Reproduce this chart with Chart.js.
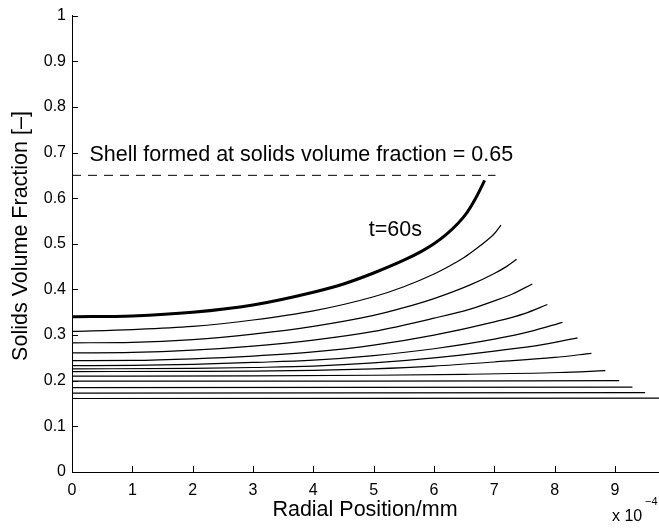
<!DOCTYPE html>
<html>
<head>
<meta charset="utf-8">
<script src="https://cdn.jsdelivr.net/npm/chart.js@4.4.1/dist/chart.umd.min.js"></script>
<style>
  html, body { margin: 0; padding: 0; background: #fff; }
  #wrap { width: 659px; height: 529px; }
</style>
</head>
<body>
<div id="wrap"><canvas id="profiles" width="659" height="529"></canvas></div>
<script>
// axis ticks (radial position in units of 1e-4 mm)
const xTicks = [0, 1, 2, 3, 4, 5, 6, 7, 8, 9];
const yTicks = [0, 0.1, 0.2, 0.3, 0.4, 0.5, 0.6, 0.7, 0.8, 0.9, 1];

// solids fraction profiles, [radial position, volume fraction]
// curve01 is the final profile at t=60s, the rest are earlier times
const curve01 = [[0, 0.340], [1, 0.342], [2, 0.350], [3, 0.366], [4, 0.394], [4.5, 0.412], [5, 0.436], [5.5, 0.464], [5.8, 0.484], [6.0, 0.500], [6.2, 0.520], [6.4, 0.545], [6.55, 0.569], [6.7, 0.602], [6.84, 0.639]];
const curve02 = [[0, 0.308], [1, 0.312], [2, 0.319], [3, 0.333], [4, 0.353], [5, 0.384], [5.5, 0.406], [6, 0.434], [6.25, 0.451], [6.5, 0.470], [6.7, 0.489], [6.9, 0.510], [7.0, 0.522], [7.11, 0.541]];
const curve03 = [[0, 0.283], [1, 0.284], [2, 0.290], [3, 0.302], [4, 0.319], [5, 0.343], [5.5, 0.360], [6, 0.380], [6.6, 0.410], [7.0, 0.435], [7.2, 0.450], [7.37, 0.466]];
const curve04 = [[0, 0.261], [1, 0.262], [2, 0.267], [3, 0.276], [4, 0.289], [5, 0.308], [6, 0.337], [6.6, 0.357], [7.0, 0.375], [7.3, 0.390], [7.63, 0.412]];
const curve05 = [[0, 0.244], [1, 0.2445], [2, 0.248], [3, 0.254], [4, 0.263], [5, 0.278], [6, 0.300], [7.0, 0.329], [7.5, 0.347], [7.88, 0.367]];
const curve06 = [[0, 0.233], [1, 0.2335], [2, 0.236], [3, 0.240], [4, 0.245], [5, 0.255], [6, 0.270], [7.0, 0.291], [7.6, 0.308], [8.13, 0.328]];
const curve07 = [[0, 0.226], [2, 0.227], [3, 0.229], [4, 0.232], [5, 0.239], [6, 0.250], [7.0, 0.265], [7.8, 0.279], [8.38, 0.294]];
const curve08 = [[0, 0.220], [2, 0.2205], [3, 0.221], [4, 0.2225], [5, 0.226], [6, 0.232], [7.0, 0.241], [8.0, 0.251], [8.61, 0.260]];
const curve09 = [[0, 0.210], [3, 0.2105], [5, 0.212], [6.5, 0.214], [8.08, 0.218], [8.84, 0.222]];
const curve10 = [[0, 0.199], [4.7, 0.199], [9.07, 0.200]];
const curve11 = [[0, 0.185], [9.29, 0.186]];
const curve12 = [[0, 0.173], [9.50, 0.174]];
const curve13 = [[0, 0.161], [9.73, 0.162]];

// shell threshold line
const shellFraction = 0.65;
const shellLineX = [0, 7.02];

// text notes: [label, x, y]
const notes = [
  ['Shell formed at solids volume fraction = 0.65', 0.29, 0.694],
  ['t=60s', 4.92, 0.530]
];

const FONT = "'Liberation Sans', Arial, Helvetica, sans-serif";

function toPoints(arr) {
  return arr.map(p => ({ x: p[0], y: p[1] }));
}

function profile(arr, width) {
  return {
    data: toPoints(arr),
    borderColor: '#000',
    borderWidth: width,
    pointRadius: 0,
    showLine: true,
    fill: false,
    cubicInterpolationMode: 'monotone'
  };
}

const datasets = [
  profile(curve01, 3),
  profile(curve02, 1.2),
  profile(curve03, 1.2),
  profile(curve04, 1.2),
  profile(curve05, 1.2),
  profile(curve06, 1.2),
  profile(curve07, 1.2),
  profile(curve08, 1.2),
  profile(curve09, 1.2),
  profile(curve10, 1.2),
  profile(curve11, 1.2),
  profile(curve12, 1.2),
  profile(curve13, 1.2),
  {
    data: shellLineX.map(x => ({ x: x, y: shellFraction })),
    borderColor: '#000',
    borderWidth: 1,
    borderDash: [9, 7],
    pointRadius: 0,
    showLine: true,
    fill: false
  }
];

// inward tick marks, notes, axis titles and the exponent label
const decorations = {
  id: 'decorations',
  afterDraw(chart) {
    const ctx = chart.ctx;
    const xs = chart.scales.x;
    const ys = chart.scales.y;
    const area = chart.chartArea;
    ctx.save();
    ctx.strokeStyle = '#000';
    ctx.lineWidth = 1;
    ctx.beginPath();
    xTicks.forEach(v => {
      const px = Math.round(xs.getPixelForValue(v)) + 0.5;
      ctx.moveTo(px, area.bottom);
      ctx.lineTo(px, area.bottom - 6);
    });
    yTicks.forEach(v => {
      const py = Math.round(ys.getPixelForValue(v)) + 0.5;
      ctx.moveTo(area.left, py);
      ctx.lineTo(area.left + 6, py);
    });
    ctx.stroke();

    ctx.fillStyle = '#000';
    ctx.font = '21.5px ' + FONT;
    ctx.textAlign = 'left';
    ctx.textBaseline = 'middle';
    notes.forEach(n => {
      ctx.fillText(n[0], xs.getPixelForValue(n[1]), ys.getPixelForValue(n[2]));
    });

    // axis titles
    ctx.textAlign = 'center';
    ctx.fillText('Radial Position/mm', 365, 510);
    ctx.save();
    ctx.translate(21, 236);
    ctx.rotate(-Math.PI / 2);
    ctx.fillText('Solids Volume Fraction [\u2013]', 0, 0);
    ctx.restore();

    // x 10^-4 multiplier
    ctx.textAlign = 'left';
    ctx.font = '16px ' + FONT;
    ctx.fillText('x 10', 612, 517);
    ctx.font = '11px ' + FONT;
    ctx.fillText('\u22124', 645, 502);
    ctx.restore();
  }
};

new Chart(document.getElementById('profiles'), {
  type: 'scatter',
  data: { datasets: datasets },
  plugins: [decorations],
  options: {
    responsive: false,
    animation: false,
    layout: { padding: { top: 10, left: 0, right: 0, bottom: 0 } },
    plugins: {
      legend: { display: false },
      tooltip: { enabled: false }
    },
    scales: {
      x: {
        type: 'linear',
        min: 0,
        max: 9.73,
        afterFit: s => { s.height = 57; },
        afterBuildTicks: s => { s.ticks = xTicks.map(v => ({ value: v })); },
        grid: { display: false, drawTicks: false },
        border: { display: true, color: '#000', width: 1 },
        ticks: {
          color: '#000',
          padding: 9,
          maxRotation: 0,
          font: { family: FONT, size: 16 },
          callback: v => String(v)
        }
      },
      y: {
        type: 'linear',
        min: 0,
        max: 1,
        afterFit: s => { s.width = 72; },
        afterBuildTicks: s => { s.ticks = yTicks.map(v => ({ value: v })); },
        grid: { display: false, drawTicks: false },
        border: { display: true, color: '#000', width: 1 },
        ticks: {
          color: '#000',
          padding: 6,
          font: { family: FONT, size: 16 },
          callback: v => String(Math.round(v * 10) / 10)
        }
      }
    }
  }
});
</script>
</body>
</html>
